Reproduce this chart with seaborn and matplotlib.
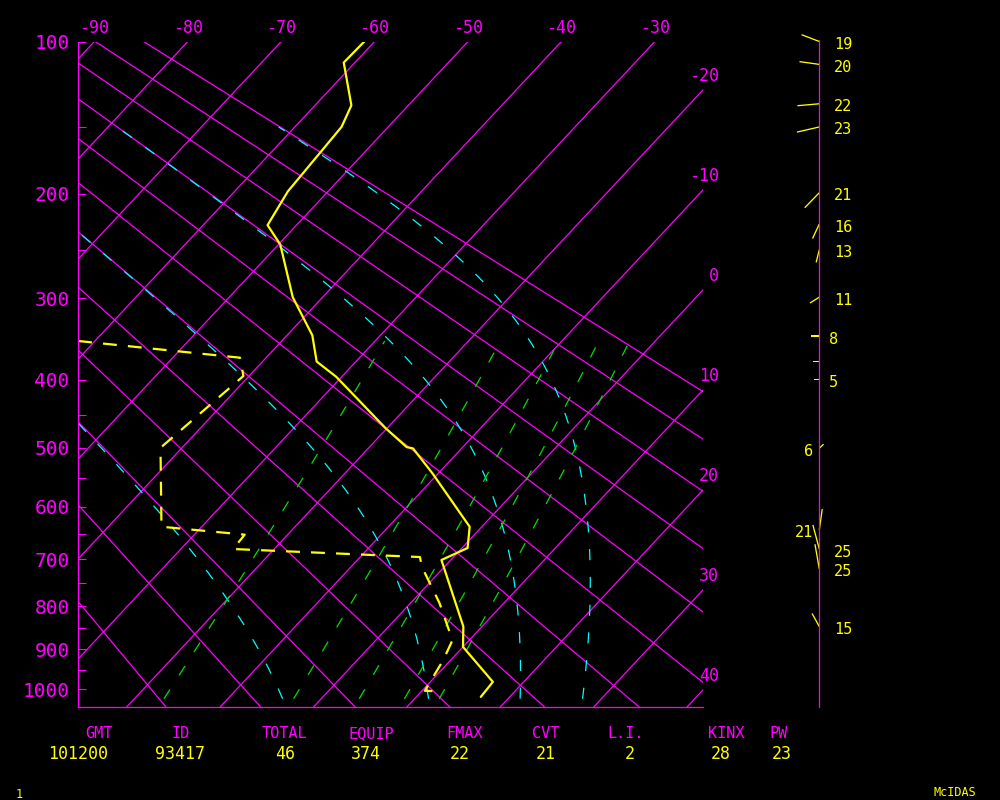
import numpy as np
import pandas as pd
import matplotlib
matplotlib.use("Agg")
import matplotlib.pyplot as plt
import seaborn as sns

# sounding (hPa, degC)
temp_p = [100, 111, 136, 150, 198, 227, 245, 299, 343, 376, 396, 470, 499, 501, 542, 637, 678, 702, 846, 894, 981, 1020]
temp_t = [-61.1, -61.2, -56.1, -55.0, -54.3, -53.1, -49.8, -43.2, -37.3, -34.2, -30.6, -20.1, -16.0, -15.2, -10.6, -1.3, 0.6, -1.0, 8.0, 10.0, 16.7, 16.9]

dew_p = [350, 371, 395, 500, 637, 652, 680, 696, 716, 793, 878, 926, 1004, 1005]
dew_t = [-61.8, -42.8, -40.6, -42.3, -34.3, -24.6, -24.4, -3.6, -2.4, 3.1, 8.2, 9.2, 10.3, 11.4]

# winds on the staff at the right (direction deg, speed)
wind_p = [100, 112, 135, 150, 199, 226, 250, 299, 344, 376, 400, 501, 643, 680, 720, 846]
wind_dir = [291, 278, 265, 257, 224, 205, 194, 238, 270, 270, 270, 45, 8, 345, 350, 331]
wind_spd = [19, 20, 22, 23, 21, 16, 13, 11, 8, 6, 5, 6, 21, 25, 25, 15]
wind_lbl = ["19", "20", "22", "23", "21", "16", "13", "11", "8", "", "5", "6", "21", "25", "25", "15"]

# background reference lines
isotherms = list(range(-90, 50, 10))
dry_theta = [254, 264, 274, 284, 294, 304, 314, 324, 334, 344, 354, 364]   # K
moist_theta_e = [274, 304, 334, 364]                                   # K
mix_ratio = [1, 3, 5, 7, 9]                                            # g/kg

top_labels = [-90, -80, -70, -60, -50, -40, -30]
right_labels = [-20, -10, 0, 10, 20, 30, 40]
p_major = [100, 200, 300, 400, 500, 600, 700, 800, 900, 1000]
p_minor = [150, 250, 350, 450, 550, 650, 750, 850, 950]

idx_names = ["GMT", "ID", "TOTAL", "EQUIP", "FMAX", "CVT", "L.I.", "KINX", "PW"]
idx_vals = ["101200", "93417", "46", "374", "22", "21", "2", "28", "23"]
name_x = [99, 181, 284, 371, 464, 546, 626, 726, 779]
val_x = [78, 180, 285, 366, 460, 546, 630, 721, 782]

MAG, YEL, CYA, GRN = "#ff00ff", "#ffff00", "#00ffff", "#00e000"

KAPPA = 0.286
P_TOP, P_BOT = 100.0, 1047.0
P_LOW = 1025.0               # lowest level of the dashed guide lines
SKEW = 18.62                 # degC shift per unit of p**kappa
X_LEFT, X_RIGHT = -91.76, -24.84


def fwd(p):
    return np.power(np.clip(p, 1e-6, None), KAPPA)


def inv(f):
    return np.power(np.clip(f, 1e-6, None), 1.0 / KAPPA)


def skew_x(t, p):
    return np.asarray(t, float) - SKEW * (fwd(np.asarray(p, float)) - fwd(P_TOP))


def theta_e(tk, p):
    es = 6.112 * np.exp(17.67 * (tk - 273.15) / (tk - 29.65))
    rs = 0.622 * es / np.maximum(p - es, 1e-3)
    return tk * (1000.0 / p) ** KAPPA * np.exp(2.5e6 * rs / (1005.0 * tk))


def moist_t(the, p):
    # temperature on the saturated adiabat of equivalent potential temperature `the`
    lo = np.full_like(p, 150.0)
    hi = np.full_like(p, 320.0)
    for _ in range(50):
        mid = 0.5 * (lo + hi)
        above = theta_e(mid, p) > the
        hi = np.where(above, mid, hi)
        lo = np.where(above, lo, mid)
    return 0.5 * (lo + hi) - 273.15


def mix_dew(w, p):
    e = w * p / (622.0 + w)
    lg = np.log(e / 6.112)
    return 243.5 * lg / (17.67 - lg)


sns.set_theme(style="dark", rc={"figure.facecolor": "black", "axes.facecolor": "black",
                                "lines.scale_dashes": False})
plt.rcParams["font.family"] = ["DejaVu Sans Mono", "DejaVu Sans"]

fig = plt.figure(figsize=(10, 8), dpi=100)
ax = fig.add_axes([0.078, 1 - 707 / 800, 0.625, 665.5 / 800])
ax.set_yscale("function", functions=(fwd, inv))
ax.set_ylim(P_BOT, P_TOP)
ax.set_xlim(X_LEFT, X_RIGHT)

pp = np.linspace(P_TOP, P_BOT, 60)
for t in isotherms:
    ax.plot(skew_x(np.full_like(pp, t), pp), pp, color=MAG, lw=0.9)
for th in dry_theta:
    ax.plot(skew_x(th * (pp / 1000.0) ** KAPPA - 273.15, pp), pp, color=MAG, lw=0.9)

# saturated adiabats, drawn from the bottom up to 150 hPa
mp = np.linspace(P_LOW, 150, 200)
for the in moist_theta_e:
    ax.plot(skew_x(moist_t(the, mp), mp), mp, color=CYA, lw=0.9, linestyle=(0, (8, 12)))

# mixing ratio lines
wp = np.linspace(P_LOW, 350, 40)
for w in mix_ratio:
    ax.plot(skew_x(mix_dew(w, wp), wp), wp, color=GRN, lw=0.9, linestyle=(0, (8, 12)))

snd = pd.DataFrame({"p": temp_p, "x": skew_x(temp_t, temp_p)})
dew = pd.DataFrame({"p": dew_p, "x": skew_x(dew_t, dew_p)})
sns.lineplot(data=snd, x="x", y="p", sort=False, estimator=None, ax=ax, color=YEL, lw=1.6)
sns.lineplot(data=dew, x="x", y="p", sort=False, estimator=None, ax=ax, color=YEL, lw=1.6,
             linestyle=(0, (10, 8)))
ax.set_xlabel("")
ax.set_ylabel("")

ax.set_xticks([])
ax.set_yticks(p_major)
ax.set_yticklabels([str(p) for p in p_major])
ax.set_yticks(p_minor, minor=True)
ax.yaxis.set_minor_formatter(matplotlib.ticker.NullFormatter())
ax.tick_params(axis="y", which="both", direction="in", length=6, width=0.8,
               colors=MAG, labelsize=14, pad=6, left=True)
for side in ["top", "right"]:
    ax.spines[side].set_visible(False)
for side in ["left", "bottom"]:
    ax.spines[side].set_color(MAG)
    ax.spines[side].set_linewidth(0.9)
ax.grid(False)

for t in top_labels:
    ax.annotate(f"{t}", xy=(t, P_TOP), xytext=(0, 14), textcoords="offset pixels",
                ha="center", va="center", color=MAG, fontsize=12, annotation_clip=False)
for t in right_labels:
    pe = inv(fwd(P_TOP) + (t - X_RIGHT) / SKEW)
    ax.annotate(f"{t}", xy=(X_RIGHT, pe), xytext=(16, 14), textcoords="offset pixels",
                ha="right", va="center", color=MAG, fontsize=12, annotation_clip=False)

# wind staff
axw = fig.add_axes([0.76, 1 - 707 / 800, 0.12, 665.5 / 800])
axw.set_yscale("function", functions=(fwd, inv))
axw.set_ylim(P_BOT, P_TOP)
axw.set_xlim(-59.3, 60.7)
axw.axis("off")
axw.plot([0, 0], [P_BOT, 99], color=MAG, lw=0.9, clip_on=False)
rad = np.deg2rad(wind_dir)
u = np.array(wind_spd) * np.sin(rad)
v = np.array(wind_spd) * np.cos(rad)
q = axw.quiver(np.zeros(len(wind_p)), wind_p, u, v, angles="uv", scale_units="dots", scale=1,
               units="dots", width=1.3, headwidth=0, headlength=0, headaxislength=0,
               pivot="tail", color=YEL)
q.set_clip_on(False)
for p, lbl, uu in zip(wind_p, wind_lbl, u):
    if not lbl:
        continue
    if uu > 0:
        axw.annotate(lbl, xy=(0, p), xytext=(-6, -3), textcoords="offset pixels",
                     ha="right", va="center", color=YEL, fontsize=11)
    else:
        dx = 15 if len(lbl) > 1 else 10
        axw.annotate(lbl, xy=(0, p), xytext=(dx, -3), textcoords="offset pixels",
                     ha="left", va="center", color=YEL, fontsize=11)

for name, x in zip(idx_names, name_x):
    fig.text(x / 1000, 1 - 734 / 800, name, color=MAG, fontsize=11, ha="center", va="center")
for val, x in zip(idx_vals, val_x):
    fig.text(x / 1000, 1 - 754 / 800, val, color=YEL, fontsize=12, ha="center", va="center")
fig.text(19 / 1000, 1 - 794 / 800, "1", color=YEL, fontsize=8.5, ha="center", va="center")
fig.text(955 / 1000, 1 - 793 / 800, "McIDAS", color=YEL, fontsize=8.5, ha="center", va="center")

fig.savefig("out.png", dpi=100, facecolor="black")
